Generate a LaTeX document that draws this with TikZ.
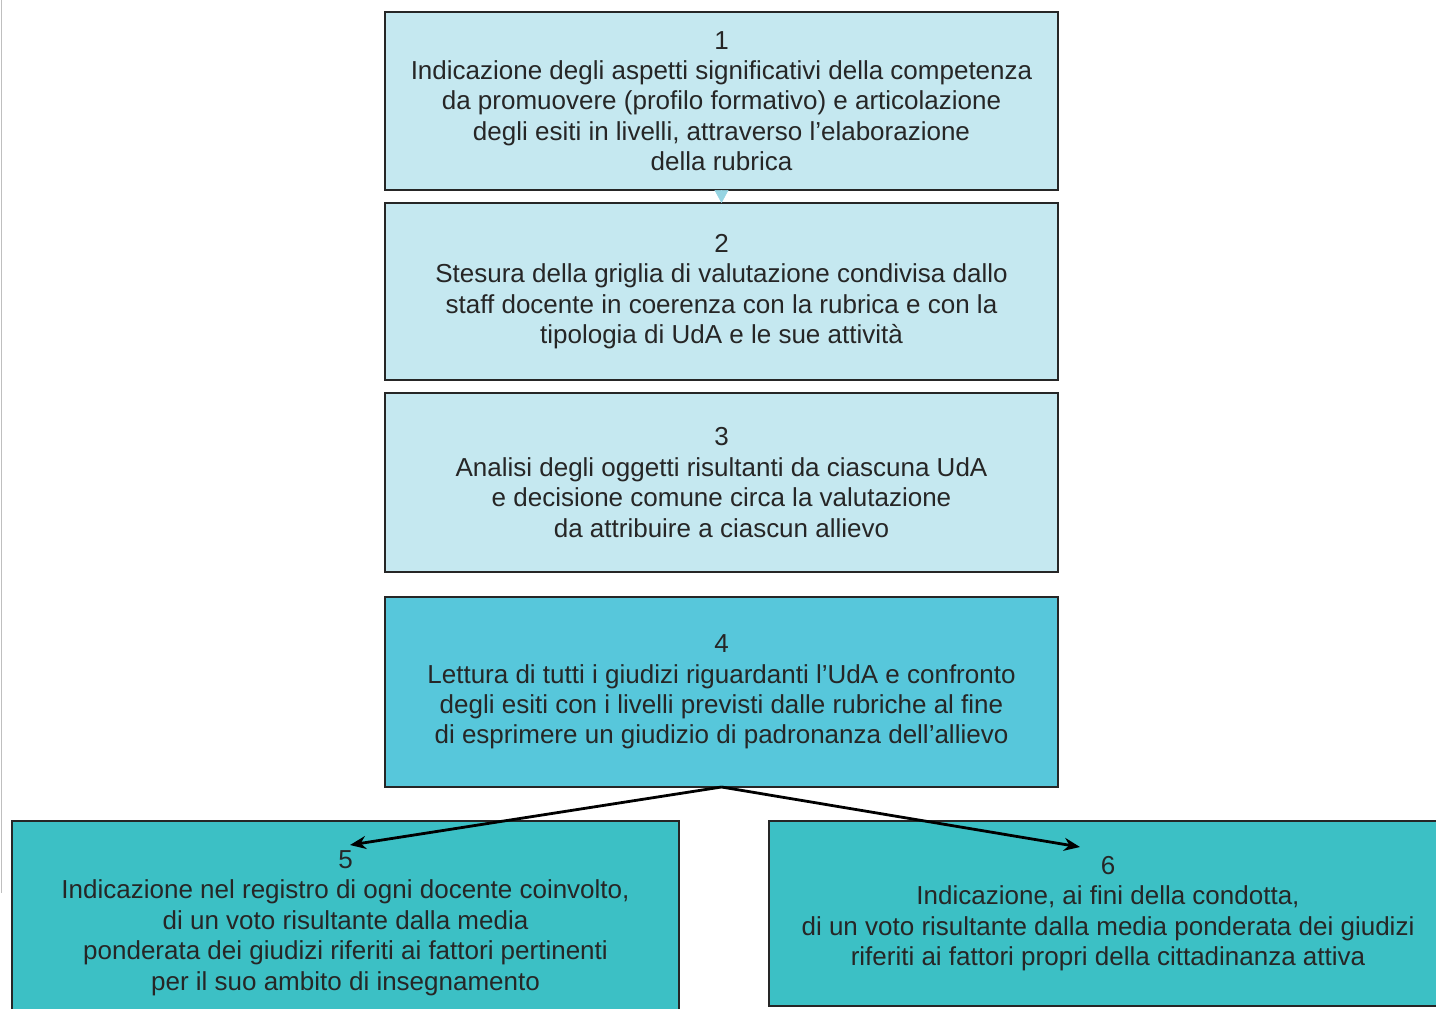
\documentclass[tikz,border=0pt]{standalone}
\usepackage{fontspec}
\setmainfont{Liberation Sans}
\usepackage{tikz}
\usetikzlibrary{positioning, arrows.meta, calc}

\definecolor{paleblue}{HTML}{C5E8F0}
\definecolor{midblue}{HTML}{57C7DB}
\definecolor{deepteal}{HTML}{3CC0C5}
\definecolor{tipblue}{HTML}{96D4E2}
\definecolor{inkgray}{HTML}{262626}

\begin{document}
\begin{tikzpicture}[x=0.5pt, y=-0.5pt, node distance=6.5pt,
  stepbox/.style={draw=black!85, line width=1.2pt, rectangle, align=center,
    inner sep=0pt, outer sep=0pt, minimum width=336.5pt, text=inkgray,
    font=\fontsize{13}{15.2}\selectfont},
  link/.style={-{Stealth[length=8pt,width=6.5pt]}, line width=1.4pt}]
  \useasboundingbox (0,0) rectangle (1436,1008);
  \draw[black!25] (1,0) -- (1,893);

  % upper steps
  \node[stepbox, fill=paleblue, minimum height=89pt] (s1) at (721.5,101)
    {1\\Indicazione degli aspetti significativi della competenza\\da promuovere (profilo formativo) e articolazione\\degli esiti in livelli, attraverso l’elaborazione\\della rubrica};
  \node[stepbox, fill=paleblue, minimum height=88.5pt] (s2) [below=of s1]
    {2\\Stesura della griglia di valutazione condivisa dallo\\staff docente in coerenza con la rubrica e con la\\tipologia di UdA e le sue attività};
  \node[stepbox, fill=paleblue, minimum height=89.5pt] (s3) [below=of s2]
    {3\\Analisi degli oggetti risultanti da ciascuna UdA\\e decisione comune circa la valutazione\\da attribuire a ciascun allievo};
  \node[stepbox, fill=midblue, minimum height=95pt] (s4) [below=12.5pt of s3]
    {4\\Lettura di tutti i giudizi riguardanti l’UdA e confronto\\degli esiti con i livelli previsti dalle rubriche al fine\\di esprimere un giudizio di padronanza dell’allievo};

  % lower steps
  \node[stepbox, fill=deepteal, minimum width=333.5pt, minimum height=102pt] (s5) at (345.5,923)
    {5\\Indicazione nel registro di ogni docente coinvolto,\\di un voto risultante dalla media\\ponderata dei giudizi riferiti ai fattori pertinenti\\per il suo ambito di insegnamento};
  \node[stepbox, fill=deepteal, minimum width=339pt, minimum height=92.5pt] (s6) at (1108,913.5)
    {6\\Indicazione, ai fini della condotta,\\di un voto risultante dalla media ponderata dei giudizi\\riferiti ai fattori propri della cittadinanza attiva};

  \draw[-{Triangle[length=6.5pt,width=7pt]}, draw=tipblue, fill=tipblue, line width=0.3pt] (s1) -- (s2);

  \coordinate (e5) at (350,845);
  \coordinate (e6) at (1080,847);
  \draw[link] (s4.south) -- (e5);
  \draw[link] (s4.south) -- (e6);
\end{tikzpicture}
\end{document}
